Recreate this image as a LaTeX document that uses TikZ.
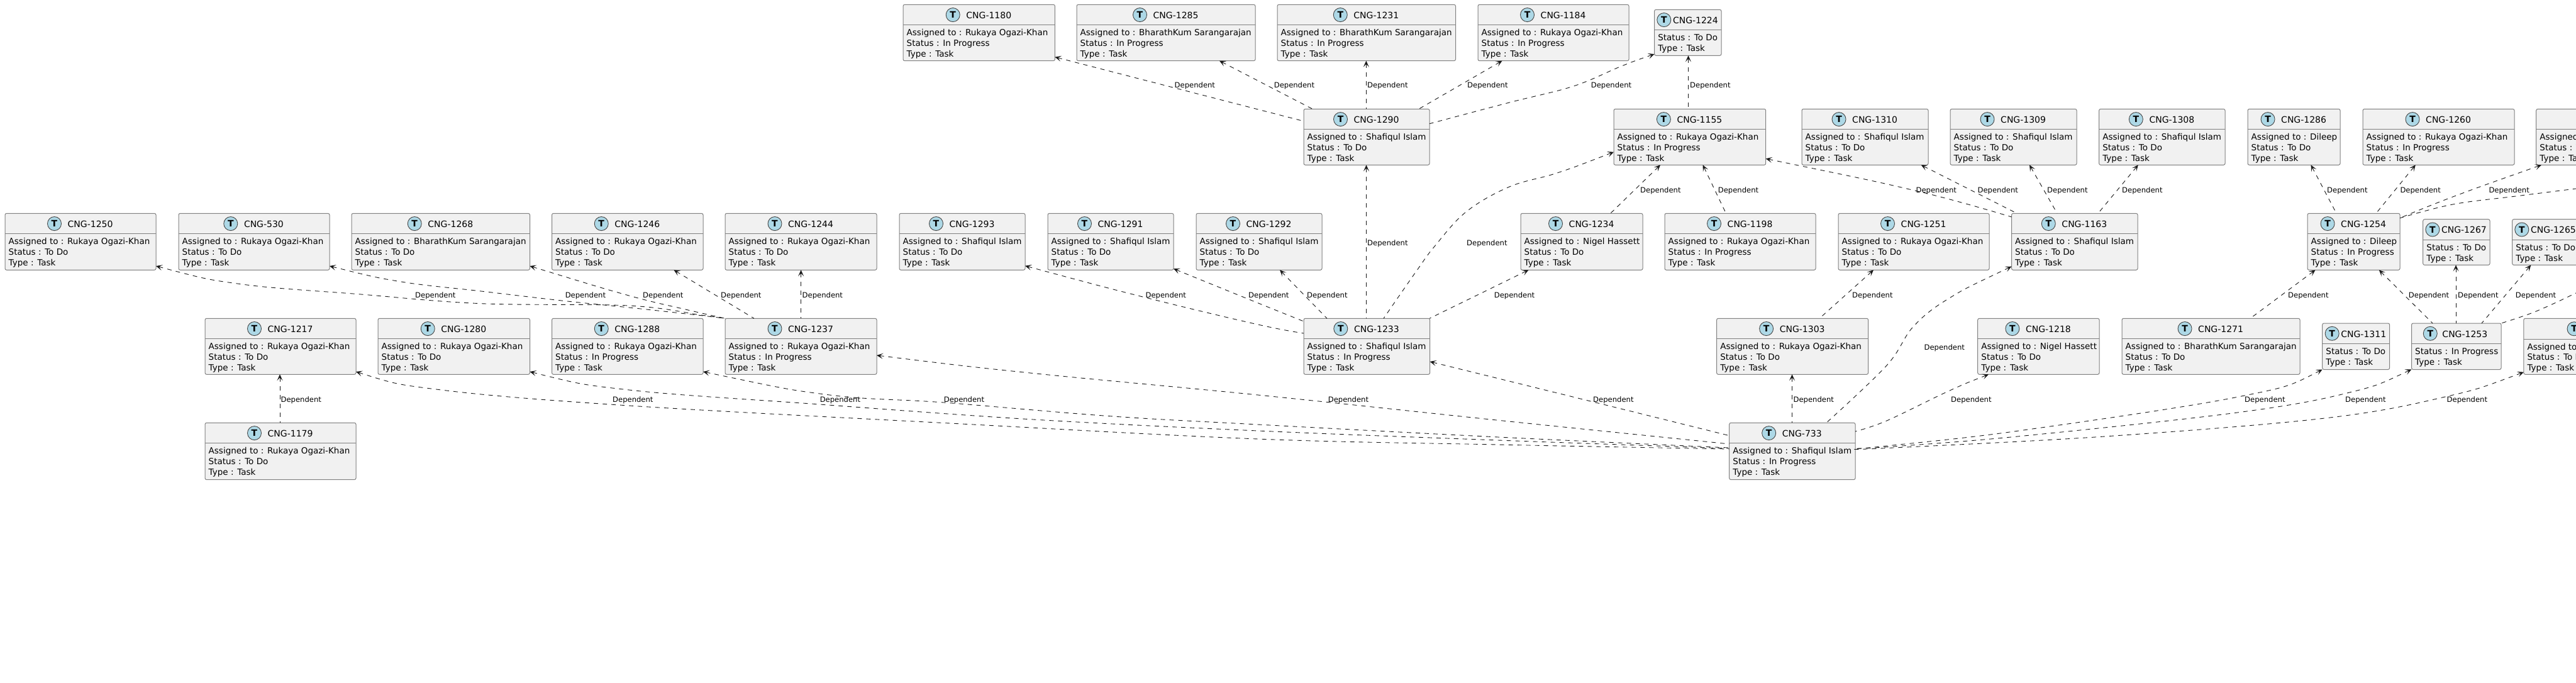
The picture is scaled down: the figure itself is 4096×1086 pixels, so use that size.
\documentclass[tikz,border=0pt]{standalone}
\usepackage{fontspec}
\setmainfont{DejaVu Sans}
\usetikzlibrary{arrows.meta}
\definecolor{boxfill}{HTML}{F1F1F1}
\definecolor{boxline}{HTML}{808080}
\definecolor{inkc}{HTML}{181818}
\definecolor{spot}{HTML}{ADD8E6}
\tikzset{
  taskbox/.style={draw=boxline,fill=boxfill,line width=1pt,rounded corners=2.5pt,inner sep=0pt,outer sep=0pt},
  sepline/.style={draw=boxline,line width=1pt},
  spotc/.style={circle,draw=inkc!80,fill=spot,line width=.9pt,minimum size=22pt,inner sep=0pt,font=\fontsize{14}{14}\selectfont\bfseries,text=black},
  titletxt/.style={anchor=base west,inner sep=0pt,font=\fontsize{14}{14}\selectfont,text=black},
  linetxt/.style={anchor=base west,inner sep=0pt,font=\fontsize{13.5}{14}\selectfont,text=black},
  deplab/.style={anchor=base west,inner sep=0pt,font=\fontsize{11.6}{13}\selectfont,text=black},
  dep/.style={draw=inkc,line width=.9pt,dash pattern=on 7pt off 7pt,{Stealth[length=10pt,width=9pt,inset=5pt]}-},
}
\newcommand{\TBcore}[8]{%
  \pgfmathsetmacro\cw{#5-#3}\pgfmathsetmacro\ch{#6-#4}%
  \pgfmathsetmacro\cx{(#3+#5)/2}\pgfmathsetmacro\cy{(#4+#6)/2}%
  \pgfmathsetmacro\sy{#4+32.4}%
  \node[taskbox,minimum width=\cw pt,minimum height=\ch pt] (n#1) at (\cx,\cy) {};
  \draw[sepline] (n#1.west |- 0,\sy) -- (n#1.east |- 0,\sy);
  \node[spotc] (c#1) at ({\cx+#7},{#4+16.3}) {T};
  \node[titletxt] (t#1) at ({\cx+#8},{#4+22}) {#2};
}
\newcommand{\TLine}[4]{\node[linetxt] (#1) at ({#2+5.5},{#3}) {#4};}
\newcommand{\Tthree}[7]{%
  \TBcore{#1}{CNG-#1}{#2}{#3}{#4}{#5}{-41.5}{-20.5}%
  \TLine{a#1}{#2}{#3+49.4}{Assigned to : #6}%
  \TLine{s#1}{#2}{#3+66}{Status : #7}%
  \TLine{y#1}{#2}{#3+83}{Type : Task}}
\newcommand{\Tshort}[7]{%
  \TBcore{#1}{CNG-#1}{#2}{#3}{#4}{#5}{-37.2}{-16.2}%
  \TLine{a#1}{#2}{#3+49.4}{Assigned to : #6}%
  \TLine{s#1}{#2}{#3+66}{Status : #7}%
  \TLine{y#1}{#2}{#3+83}{Type : Task}}
\newcommand{\Ttwo}[6]{% id L T R B statustext
  \TBcore{#1}{CNG-#1}{#2}{#3}{#4}{#5}{-38}{-24}%
  \TLine{s#1}{#2}{#3+49.4}{Status : #6}%
  \TLine{y#1}{#2}{#3+66.6}{Type : Task}}
\newcommand{\Lab}[3]{\node[deplab] (#1) at (#2,#3) {Dependent};}
\begin{document}
\begin{tikzpicture}[x=1pt,y=-1pt]
\useasboundingbox (0,0) rectangle (4096,1086);
\fill[white] (0,0) rectangle (4096,1086);
\clip (0,0) rectangle (4096,1086);
% top row
\Tthree{1180}{1436}{7.3}{1677.4}{96.7}{Rukaya Ogazi-Khan}{In Progress}
\Tthree{1285}{1712}{7.3}{1996}{96.7}{BharathKum Sarangarajan}{In Progress}
\Tthree{1231}{2031}{7.3}{2314.5}{96.7}{BharathKum Sarangarajan}{In Progress}
\Tthree{1184}{2350}{7.3}{2590}{96.7}{Rukaya Ogazi-Khan}{In Progress}
\Ttwo{1224}{2630.6}{15.3}{2737}{88.3}{To Do}
% second row
\Tthree{1290}{2073}{173.3}{2273}{262.3}{Shafiqul Islam}{To Do}
\Tthree{1155}{2566}{173.3}{2807.7}{262.3}{Rukaya Ogazi-Khan}{In Progress}
\Tthree{1310}{2865}{173.3}{3066}{262.3}{Shafiqul Islam}{To Do}
\Tthree{1309}{3101}{173.3}{3302}{262.3}{Shafiqul Islam}{To Do}
\Tthree{1308}{3337.6}{173.3}{3538}{262.3}{Shafiqul Islam}{To Do}
\Tthree{1286}{3574}{173.3}{3721}{262.3}{Dileep}{To Do}
\Tthree{1260}{3757}{173.3}{3998}{262.3}{Rukaya Ogazi-Khan}{In Progress}
\node[taskbox,minimum width=240pt,minimum height=89pt] (nR1) at (4152.7,217.8) {};
\draw[sepline] (nR1.west |- 0,205.7) -- (nR1.east |- 0,205.7);
\TLine{aR1}{4032.7}{222.7}{Assigned to}
\TLine{sR1}{4032.7}{239.3}{Status : To Do}
\TLine{yR1}{4032.7}{256.3}{Type : Task}
% third row
\Tthree{1250}{8}{339.3}{248}{429.3}{Rukaya Ogazi-Khan}{To Do}
\Tshort{530}{284}{339.3}{524}{429.3}{Rukaya Ogazi-Khan}{To Do}
\Tthree{1268}{559}{339.3}{842.5}{429.3}{BharathKum Sarangarajan}{To Do}
\Tthree{1246}{877.5}{339.3}{1118}{429.3}{Rukaya Ogazi-Khan}{To Do}
\Tthree{1244}{1153}{339.3}{1394}{429.3}{Rukaya Ogazi-Khan}{To Do}
\Tthree{1293}{1430}{339.3}{1630}{429.3}{Shafiqul Islam}{To Do}
\Tthree{1291}{1666}{339.3}{1866}{429.3}{Shafiqul Islam}{To Do}
\Tthree{1292}{1902}{339.3}{2102}{429.3}{Shafiqul Islam}{To Do}
\Tthree{1234}{2418}{339.3}{2612}{429.3}{Nigel Hassett}{To Do}
\Tthree{1198}{2647}{339.3}{2887}{429.3}{Rukaya Ogazi-Khan}{In Progress}
\Tthree{1251}{2923}{339.3}{3163}{429.3}{Rukaya Ogazi-Khan}{To Do}
\Tthree{1163}{3198.5}{339.3}{3399}{429.3}{Shafiqul Islam}{To Do}
\Tthree{1254}{3669}{339.3}{3816}{429.3}{Dileep}{In Progress}
\Ttwo{1267}{3852.7}{348.7}{3959}{421.4}{To Do}
\Ttwo{1265}{3994.6}{348.7}{4101}{421.4}{To Do}
% fourth row
\Tthree{1217}{326}{506.3}{566}{595.3}{Rukaya Ogazi-Khan}{To Do}
\Tthree{1280}{601}{506.3}{842.5}{595.3}{Rukaya Ogazi-Khan}{To Do}
\Tthree{1288}{877.5}{506.3}{1118}{595.3}{Rukaya Ogazi-Khan}{In Progress}
\Tthree{1237}{1153}{506.3}{1394}{595.3}{Rukaya Ogazi-Khan}{In Progress}
\Tthree{1233}{2073}{506.3}{2273.6}{595.3}{Shafiqul Islam}{In Progress}
\Tthree{1303}{2729.6}{506.3}{2970.6}{595.3}{Rukaya Ogazi-Khan}{To Do}
\Tthree{1218}{3144.7}{506.3}{3338}{595.3}{Nigel Hassett}{To Do}
\Tthree{1271}{3374}{506.3}{3657}{595.3}{BharathKum Sarangarajan}{To Do}
\Ttwo{1311}{3692.7}{514}{3799.6}{587.5}{To Do}
\TBcore{1253}{CNG-1253}{3834.5}{514}{3977}{587.5}{-41.5}{-22.5}
\TLine{s1253}{3834.5}{563.4}{Status : In Progress}
\TLine{y1253}{3834.5}{580.6}{Type : Task}
\node[taskbox,minimum width=240pt,minimum height=89pt] (nR2) at (4132.8,550.8) {};
\draw[sepline] (nR2.west |- 0,539.1) -- (nR2.east |- 0,539.1);
\node[spotc] (cR2) at (4093,522.8) {T};
\TLine{aR2}{4012.8}{556.1}{Assigned to}
\TLine{sR2}{4012.8}{572.7}{Status : To Do}
\TLine{yR2}{4012.8}{589.7}{Type : Task}
% bottom row
\Tthree{1179}{326}{672.3}{566}{762.7}{Rukaya Ogazi-Khan}{To Do}
\Tshort{733}{2749.7}{672.3}{2950}{762.7}{Shafiqul Islam}{In Progress}
% connectors, head first
\draw[dep] (n1180.east |- 0,90.7) -- (n1290.west |- 0,192.7);
\draw[dep] (n1285.south -| 1939,0) -- (n1290.north -| 2087,0);
\draw[dep] (n1231.south -| 2172.3,0) -- (n1290.north -| 2172.3,0);
\draw[dep] (n1184.south -| 2388.5,0) -- (n1290.north -| 2256,0);
\draw[dep] plot[smooth,tension=.6] coordinates {(n1224.west |- 0,86) (2578.6,105) (2502,137) (2400,163) (n1290.east |- 0,196.7)};
\draw[dep] (n1224.south -| 2684.5,0) -- (n1155.north -| 2684.5,0);
\draw[dep] (n1290.south -| 2172.5,0) -- (n1233.north -| 2172.5,0);
\draw[dep] plot[smooth,tension=.6] coordinates {(n1155.west |- 0,241.7) (2476,275) (2400,297) (2331,337) (2280,393) (2255,427) (2225,470) (n1233.north -| 2200,0)};
\draw[dep] (n1155.south -| 2640,0) -- (n1234.north -| 2560.7,0);
\draw[dep] (n1155.south -| 2707.6,0) -- (n1198.north -| 2744.4,0);
\draw[dep] plot[smooth,tension=.6] coordinates {(n1155.east |- 0,252.3) (3053,305) (n1163.west |- 0,345)};
\draw[dep] (n1310.south -| 3054.6,0) -- (n1163.north -| 3207,0);
\draw[dep] (n1309.south -| 3227,0) -- (n1163.north -| 3271,0);
\draw[dep] (n1308.south -| 3399.8,0) -- (n1163.north -| 3336,0);
\draw[dep] (n1286.south -| 3674.5,0) -- (n1254.north -| 3715,0);
\draw[dep] (n1260.south -| 3840.8,0) -- (n1254.north -| 3778,0);
\draw[dep] plot[smooth,tension=.6] coordinates {(nR1.south -| 4041,0) (3900,313) (n1254.east |- 0,346.7)};
\draw[dep] plot[smooth,tension=.6] coordinates {(4130,296) (4096,300) (4000,312) (3900,325) (n1254.east |- 0,346.7)};
\draw[dep] (n1254.south -| 3681.5,0) -- (n1271.north -| 3578,0);
\draw[dep] (n1254.south -| 3782.8,0) -- (n1253.north -| 3868,0);
\draw[dep] (n1267.south -| 3905,0) -- (n1253.north -| 3905,0);
\draw[dep] (n1265.south -| 4024.3,0) -- (n1253.north -| 3946,0);
\draw[dep] plot[smooth,tension=.6] coordinates {(4130,448) (4091,468.3) (4030,496) (n1253.north east)};
\draw[dep] (n1303.south -| 2849.5,0) -- (n733.north -| 2849.5,0);
\draw[dep] (n1251.south -| 2979,0) -- (n1303.north -| 2893,0);
\draw[dep] plot[smooth,tension=.6] coordinates {(n1163.west |- 0,423.7) (3098,475) (3042,519.6) (3000,581) (n733.north -| 2904,0)};
\draw[dep] plot[smooth,tension=.6] coordinates {(n1218.south -| 3162,0) (3098,622) (3000,669) (n733.east |- 0,686)};
\draw[dep] plot[smooth,tension=.6] coordinates {(n1311.west |- 0,587.5) (3559,631) (3210,685) (3000,709) (n733.east |- 0,713.5)};
\draw[dep] plot[smooth,tension=.6] coordinates {(n1253.west |- 0,587.3) (3734,624.5) (3559,655.8) (3210,693.8) (3000,710.7) (n733.east |- 0,713)};
\draw[dep] plot[smooth,tension=.6] coordinates {(nR2.west |- 0,591.7) (3887.7,631) (3699,664.7) (3349.5,693.8) (3000,712.5) (n733.east |- 0,714)};
\draw[dep] plot[smooth,tension=.6] coordinates {(n1233.east |- 0,575) (2529,638) (n733.west |- 0,692.7)};
\draw[dep] plot[smooth,tension=.6] coordinates {(n1237.east |- 0,565) (1637.8,593) (2000,628) (2382.6,668.3) (n733.west |- 0,706)};
\draw[dep] plot[smooth,tension=.6] coordinates {(n1288.east |- 0,591) (1319,628) (1500.6,640) (1765,661.7) (2000,675) (2382,695) (n733.west |- 0,712)};
\draw[dep] plot[smooth,tension=.6] coordinates {(n1280.east |- 0,591) (1000,620) (1303.6,643) (1637.8,666.7) (2000,685) (2382,700) (n733.west |- 0,713)};
\draw[dep] plot[smooth,tension=.6] coordinates {(n1217.east |- 0,591) (701.5,620) (1000,645) (1510,673) (2000,698) (2382,707) (n733.west |- 0,714)};
\draw[dep] (n1217.south -| 445,0) -- (n1179.north -| 445,0);
\draw[dep] plot[smooth,tension=.6] coordinates {(n1250.east |- 0,423) (382.6,451.7) (574,468) (765,482.7) (1000,486) (1115,501) (n1237.north west)};
\draw[dep] plot[smooth,tension=.6] coordinates {(n530.east |- 0,423) (638,448) (765,463) (893,478) (1000,489) (1100,500) (n1237.north west)};
\draw[dep] plot[smooth,tension=.6] coordinates {(n1268.east |- 0,423) (1000,470) (1090,492) (n1237.north west)};
\draw[dep] (n1246.south -| 1071.4,0) -- (n1237.north -| 1199,0);
\draw[dep] (n1244.south -| 1273.6,0) -- (n1237.north -| 1273.6,0);
\draw[dep] plot[smooth,tension=.6] coordinates {(n1293.east |- 0,422.7) (1821,473) (2000,516) (n1233.west |- 0,530)};
\draw[dep] plot[smooth,tension=.6] coordinates {(n1291.east |- 0,427.3) (2000,481.7) (n1233.west |- 0,511)};
\draw[dep] (n1292.south -| 2035,0) -- (n1233.north -| 2110,0);
\draw[dep] (n1234.south -| 2430.5,0) -- (n1233.north -| 2273,0);
% labels
\Lab{l01}{1867.5}{140}\Lab{l02}{2025.6}{140}\Lab{l03}{2174}{140}\Lab{l04}{2333}{140}\Lab{l05}{2529.6}{140}\Lab{l06}{2687}{140}
\Lab{l07}{2174}{390}\Lab{l08}{2332}{390}\Lab{l09}{2608}{306}\Lab{l10}{2731.6}{306}\Lab{l11}{3046.4}{306}\Lab{l12}{3144.4}{306}
\Lab{l13}{3255}{306}\Lab{l14}{3374}{306}\Lab{l15}{3700}{306}\Lab{l16}{3816.3}{306}\Lab{l17}{3957.3}{306}
\Lab{l18}{660}{473}\Lab{l19}{898.6}{473}\Lab{l20}{1022}{473}\Lab{l21}{1146}{473}\Lab{l22}{1275.5}{473}
\Lab{l23}{1821.4}{473}\Lab{l24}{1985}{473}\Lab{l25}{2078}{473}\Lab{l26}{2375.6}{473}\Lab{l27}{2945}{473}
\Lab{l28}{3638}{473}\Lab{l29}{3829.7}{473}\Lab{l30}{3908}{473}\Lab{l31}{3999.7}{473}
\Lab{l32}{446.4}{639}\Lab{l33}{974}{639}\Lab{l34}{1303.6}{639}\Lab{l35}{1500.6}{639}\Lab{l36}{2111.6}{639}\Lab{l37}{2533}{639}
\Lab{l38}{2851.4}{639}\Lab{l39}{3059.4}{556}\Lab{l40}{3102}{639}\Lab{l41}{3569}{639}\Lab{l42}{3729}{639}\Lab{l43}{3890.5}{639}
\end{tikzpicture}
\end{document}
